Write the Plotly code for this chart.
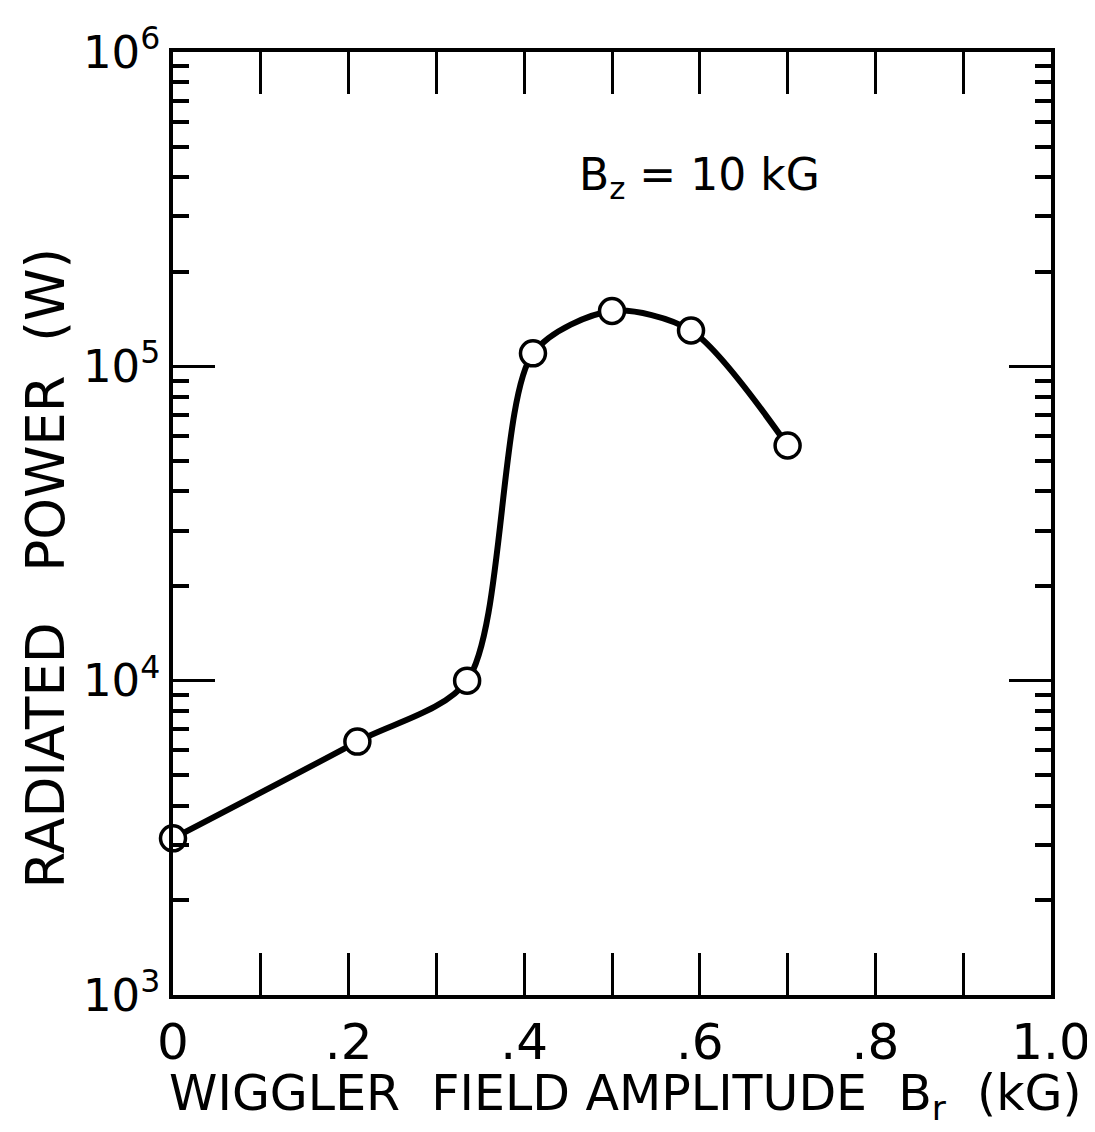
import plotly.graph_objects as go

# Data
field_kG = [0.0, 0.21, 0.335, 0.41, 0.50, 0.59, 0.70]
power_W = [3.15e3, 6.4e3, 1.0e4, 1.1e5, 1.5e5, 1.3e5, 5.6e4]

x_tick_vals = [0.0, 0.1, 0.2, 0.3, 0.4, 0.5, 0.6, 0.7, 0.8, 0.9, 1.0]
x_tick_text = ["0", "", ".2", "", ".4", "", ".6", "", ".8", "", "1.0"]
y_tick_vals = [1e3, 1e4, 1e5, 1e6]
y_tick_text = ["10<sup>3</sup>", "10<sup>4</sup>", "10<sup>5</sup>", "10<sup>6</sup>"]
y_minor_vals = [m * 10 ** e for e in (3, 4, 5) for m in range(2, 10)]

FONT = "DejaVu Sans"

fig = go.Figure()
fig.add_trace(go.Scatter(
    x=field_kG, y=power_W, mode="lines",
    line=dict(color="black", width=6, shape="spline", smoothing=0.8),
    showlegend=False, hoverinfo="skip", cliponaxis=False))
fig.add_trace(go.Scatter(
    x=field_kG, y=power_W, mode="markers", cliponaxis=False,
    marker=dict(size=25, color="white", line=dict(color="black", width=3.5)),
    showlegend=False))

fig.add_annotation(
    x=0.60, y=5.6, xref="x", yref="y",
    text="B<sub>z</sub> = 10 kG", showarrow=False,
    font=dict(family=FONT, size=44, color="black"))

# Axis titles placed as annotations to match the reference positions
fig.add_annotation(
    x=-0.145, y=0.453, xref="paper", yref="paper",
    text="RADIATED   POWER  (W)", showarrow=False, textangle=-90,
    xanchor="center", yanchor="middle",
    font=dict(family=FONT, size=53, color="black"))
fig.add_annotation(
    x=0.515, y=-0.108, xref="paper", yref="paper",
    text="WIGGLER  FIELD AMPLITUDE  B<sub>r</sub>  (kG)", showarrow=False,
    xanchor="center", yanchor="middle",
    font=dict(family=FONT, size=49, color="black"))

fig.update_xaxes(
    range=[0, 1.0], tickmode="array", tickvals=x_tick_vals, ticktext=x_tick_text,
    ticks="inside", ticklen=42, tickwidth=2.5, tickcolor="black",
    showline=True, linewidth=3.5, linecolor="black", mirror="ticks",
    showgrid=False, zeroline=False, ticklabeloverflow="allow",
    tickfont=dict(family=FONT, size=50, color="black"))

fig.update_yaxes(
    type="log", range=[3, 6], tickmode="array", tickvals=y_tick_vals, ticktext=y_tick_text,
    ticks="inside", ticklen=42, tickwidth=3, tickcolor="black",
    minor=dict(ticks="inside", ticklen=16, tickwidth=4, tickcolor="black",
               tickmode="array", tickvals=y_minor_vals, showgrid=False),
    showline=True, linewidth=3.5, linecolor="black", mirror="ticks",
    showgrid=False, zeroline=False, ticklabeloverflow="allow",
    tickfont=dict(family=FONT, size=45, color="black"))

fig.update_layout(
    width=1095, height=1132,
    margin=dict(l=165, r=45, t=34, b=145),
    paper_bgcolor="white", plot_bgcolor="white",
    font=dict(family=FONT, color="black"))

fig.write_html("out.html")
